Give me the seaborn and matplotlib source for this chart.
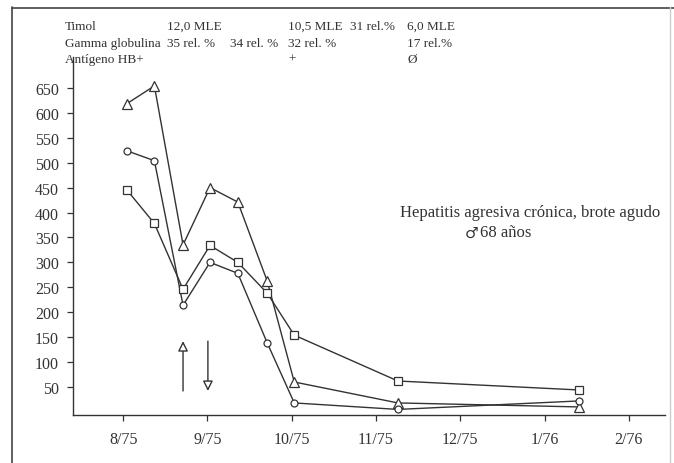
import numpy as np
import pandas as pd
import seaborn as sns
import matplotlib.pyplot as plt
from matplotlib.lines import Line2D

# months counted from 8/75
meses = [0.04, 0.37, 0.71, 1.03, 1.36, 1.71, 2.03, 3.26, 5.41]
triangulos = [618, 654, 335, 450, 421, 262, 60, 18, 10]
circulos = [524, 504, 214, 300, 278, 138, 18, 5, 22]
cuadrados = [446, 378, 246, 334, 300, 238, 154, 62, 44]

tick_pos = [0, 1, 2, 3, 4, 5, 6]
tick_labels = ['8/75', '9/75', '10/75', '11/75', '12/75', '1/76', '2/76']
y_ticks = [50, 100, 150, 200, 250, 300, 350, 400, 450, 500, 550, 600, 650]

# therapy arrows (month, from, to)
flecha_arriba = (0.71, 42, 142)
flecha_abajo = (1.005, 142, 42)

# header table rows
filas = ['Timol', 'Gamma globulina', 'Antígeno HB+']
col_x = [167, 230, 288, 350, 407]
valores = [
    ['12,0 MLE', '', '10,5 MLE', '31 rel.%', '6,0 MLE'],
    ['35 rel. %', '34 rel. %', '32 rel. %', '', '17 rel.%'],
    ['', '', '+', '', 'Ø'],
]

sns.set_style('ticks')
plt.rcParams['font.family'] = ['Liberation Serif', 'DejaVu Sans']
col = '#333333'

fig = plt.figure(figsize=(6.74, 4.64), dpi=100)
W, H = 674, 464
ax = fig.add_axes([73 / W, 1 - 415.7 / H, (665 - 73) / W, (415.7 - 58) / H])

df = pd.DataFrame({'mes': meses, 'tri': triangulos, 'cir': circulos, 'cua': cuadrados})
for serie, m, ms in [('tri', '^', 7), ('cir', 'o', 5), ('cua', 's', 5.5)]:
    sns.lineplot(data=df, x='mes', y=serie, ax=ax, color=col, lw=1, marker=m,
                 markersize=ms, markerfacecolor='white', markeredgecolor=col,
                 markeredgewidth=0.9, sort=False)

for x, y0, y1 in [flecha_arriba, flecha_abajo]:
    ax.annotate('', xy=(x, y1), xytext=(x, y0),
                arrowprops=dict(arrowstyle='-|>,head_length=0.6,head_width=0.3',
                                mutation_scale=10, fc='white', ec=col, lw=1,
                                shrinkA=0, shrinkB=0))

ax.set_xlim(-0.596, 6.43)
ax.set_ylim(-5.6, 712)
ax.set_xticks(tick_pos)
ax.set_xticklabels(tick_labels)
ax.set_yticks(y_ticks)
ax.set_xlabel('')
ax.set_ylabel('')
ax.tick_params(labelsize=11.5, colors=col, length=4, width=0.9, pad=6)
ax.tick_params(axis='x', pad=8)
sns.despine(ax=ax)
for s in ['left', 'bottom']:
    ax.spines[s].set_color(col)
    ax.spines[s].set_linewidth(1)

ax.text(3.28, 401, 'Hepatitis agresiva crónica, brote agudo', fontsize=12,
        color=col, ha='left', va='center')
ax.text(4.05, 361, '♂', fontsize=11, color=col, ha='left', va='center',
        family=['DejaVu Sans'])
ax.text(4.24, 361, '68 años', fontsize=12, color=col, ha='left', va='center')

# header table
ys = [27, 44, 60]
for i, fila in enumerate(filas):
    fig.text(65 / W, 1 - ys[i] / H, fila, fontsize=9.5, color=col, va='center')
    for j, v in enumerate(valores[i]):
        if v:
            fig.text(col_x[j] / W, 1 - ys[i] / H, v, fontsize=9.5, color=col, va='center')

# frame around the figure
fig.add_artist(Line2D([12.5 / W, 12.5 / W], [0, 1 - 8 / H], color='#444444', lw=1.2))
fig.add_artist(Line2D([12 / W, 1], [1 - 8.5 / H, 1 - 8.5 / H], color='#444444', lw=1.2))
fig.add_artist(Line2D([670 / W, 670 / W], [0, 1 - 8 / H], color='#cccccc', lw=1))

fig.savefig('out.png', dpi=100)
